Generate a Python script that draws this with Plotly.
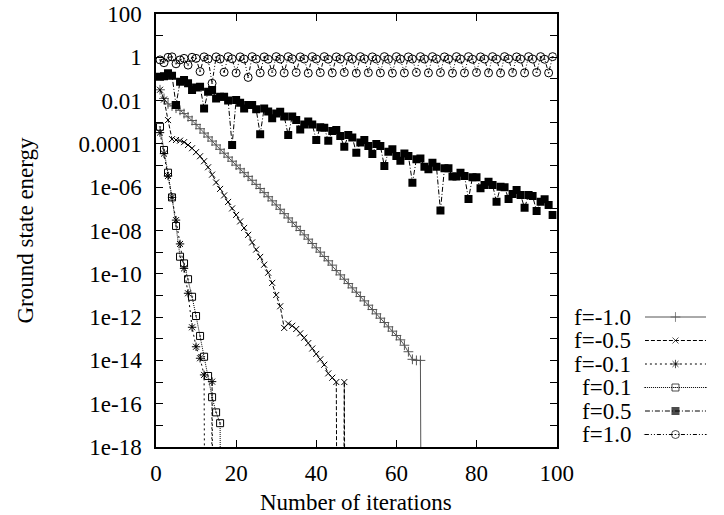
import plotly.graph_objects as go

# ---------------- data (log10 of ground state energy) ----------------
labels = ["f=-1.0", "f=-0.5", "f=-0.1", "f=0.1", "f=0.5", "f=1.0"]
TINY = -60  # value that underflowed (drawn as a drop to the bottom axis)

x_fm10 = list(range(1, 68))
log_fm10 = [-1.5, -1.9, -2.15, -2.25, -2.35, -2.45, -2.6, -2.75, -2.92, -3.1,
            -3.3, -3.5, -3.68, -3.87, -4.05, -4.25, -4.43, -4.61, -4.8, -4.98,
            -5.15, -5.33, -5.5, -5.68, -5.87, -6.06, -6.25, -6.44, -6.63, -6.82,
            -7.02, -7.22, -7.42, -7.62, -7.81, -8.0, -8.2, -8.4, -8.6, -8.8,
            -9.0, -9.2, -9.4, -9.6, -9.85, -10.05, -10.25, -10.45, -10.65, -10.85,
            -11.05, -11.25, -11.45, -11.65, -11.85, -12.05, -12.25, -12.45, -12.65, -12.85,
            -13.05, -13.3, -13.6, -13.95, -14.0, -14.0, TINY]

x_fm05 = list(range(1, 49))
log_fm05 = [-1.5, -1.95, -2.9, -3.78, -3.82, -3.85, -3.92, -4.05, -4.2, -4.38,
            -4.57, -4.8, -5.08, -5.42, -5.78, -6.08, -6.38, -6.68, -6.98, -7.28,
            -7.58, -7.88, -8.2, -8.55, -8.88, -9.22, -9.58, -9.95, -10.42, -10.98,
            -11.5, -12.5, -12.3, -12.4, -12.55, -12.75, -12.95, -13.2, -13.45, -13.7,
            -13.95, -14.2, -14.6, -14.8, -15.0, TINY, -15.0, TINY]

x_fm01 = list(range(1, 16))
log_fm01 = [-3.48, -4.45, -5.48, -6.47, -7.52, -8.62, -9.75, -10.9, -12.47, -13.37,
            -13.9, -14.67, TINY, -14.98, TINY]

x_fp01 = list(range(1, 18))
log_fp01 = [-3.21, -4.28, -5.33, -6.47, -7.79, -9.21, -9.52, -10.25, -11.06, -11.95,
            -12.87, -13.83, -14.72, -15.7, -16.4, -16.9, TINY]

x_fp05 = list(range(1, 100))
log_fp05 = [-0.9, -0.88, -0.74, -0.85, -2.2, -1.13, -1.05, -1.2, -1.51, -1.4,
            -1.36, -2.36, -1.59, -1.51, -1.9, -1.82, -1.82, -2.0, -4.05, -1.97,
            -2.1, -2.36, -2.2, -2.2, -2.4, -3.56, -2.36, -2.5, -2.82, -2.6,
            -2.51, -2.74, -3.59, -2.74, -2.9, -3.33, -3.1, -2.97, -3.1, -3.82,
            -3.23, -3.25, -3.85, -3.4, -3.36, -3.64, -4.13, -3.59, -3.7, -4.41,
            -3.94, -3.82, -4.1, -4.47, -4.0, -4.1, -5.02, -4.36, -4.25, -4.56,
            -4.78, -4.44, -4.56, -5.79, -4.71, -4.67, -5.05, -5.17, -4.87, -5.05,
            -7.08, -5.13, -5.13, -5.51, -5.51, -5.33, -5.48, -6.54, -5.54, -5.54,
            -6.05, -5.9, -5.75, -5.9, -6.67, -5.98, -6.0, -6.54, -6.31, -6.13,
            -6.36, -6.95, -6.36, -6.41, -7.1, -6.67, -6.56, -6.82, -7.28]

x_fp10 = list(range(1, 100))
log_fp10 = [-0.12, -0.25, 0.0, 0.02, -0.3, -0.12, -0.05, -0.36, 0.0, -0.05,
            -0.66, 0.02, -0.08, -1.2, 0.02, -0.08, -0.69, 0.03, -0.07, -0.72,
            0.02, -0.08, -0.93, 0.03, -0.08, -0.72, 0.02, -0.09, -0.7, 0.03,
            -0.08, -0.72, 0.03, -0.07, -0.7, 0.02, -0.08, -0.73, 0.03, -0.08,
            -0.71, 0.03, -0.09, -0.72, 0.02, -0.08, -0.7, 0.03, -0.08, -0.73,
            0.03, -0.07, -0.71, 0.02, -0.08, -0.72, 0.03, -0.09, -0.73, 0.03,
            -0.08, -0.72, 0.02, -0.08, -0.7, 0.03, -0.08, -0.72, 0.03, -0.07,
            -0.71, 0.02, -0.08, -0.73, 0.03, -0.08, -0.72, 0.03, -0.09, -0.7,
            0.02, -0.08, -0.72, 0.03, -0.08, -0.73, 0.03, -0.07, -0.71, 0.02,
            -0.08, -0.72, 0.03, -0.08, -0.7, 0.03, -0.09, -0.72, 0.03]

x_ticks = [0, 20, 40, 60, 80, 100]
y_exponents = list(range(-18, 3))
y_ticktext = {2: "100", 0: "1", -2: "0.01", -4: "0.0001", -6: "1e-06", -8: "1e-08",
              -10: "1e-10", -12: "1e-12", -14: "1e-14", -16: "1e-16", -18: "1e-18"}

# ---------------- styles ----------------
FONT = "Liberation Serif"
FS = 23
series = [
    (x_fm10, log_fm10, dict(color="#555555", width=1, dash="solid"),
     dict(symbol="cross-thin-open", size=7, color="#555555", line=dict(width=1, color="#555555"))),
    (x_fm05, log_fm05, dict(color="black", width=1, dash="4px,2px"),
     dict(symbol="x-thin-open", size=6, color="black", line=dict(width=1, color="black"))),
    (x_fm01, log_fm01, dict(color="black", width=1, dash="2px,3px"),
     dict(symbol="asterisk-open", size=7, color="black", line=dict(width=1, color="black"))),
    (x_fp01, log_fp01, dict(color="black", width=1, dash="1px,1px"),
     dict(symbol="square-open-dot", size=7, color="black", line=dict(width=1, color="black"))),
    (x_fp05, log_fp05, dict(color="black", width=1, dash="5px,2px,1px,2px"),
     dict(symbol="square", size=8, color="black", line=dict(width=0))),
    (x_fp10, log_fp10, dict(color="black", width=1, dash="4px,2px,1px,2px,1px,2px"),
     dict(symbol="circle-open-dot", size=8, color="black", line=dict(width=1, color="black"))),
]

fig = go.Figure()
for (xs, logs, line, marker), name in zip(series, labels):
    fig.add_trace(go.Scatter(x=xs, y=[10.0 ** v for v in logs], mode="lines+markers",
                             line=line, marker=marker, name=name, showlegend=False,
                             xaxis="x", yaxis="y"))

# legend (text left, sample right, as in the original)
for i, ((xs, logs, line, marker), name) in enumerate(zip(series, labels)):
    fig.add_trace(go.Scatter(x=[0, 0.5, 1], y=[i, i, i], mode="lines+markers",
                             line=line, marker=dict(marker, size=[0, marker["size"], 0]),
                             showlegend=False, xaxis="x2", yaxis="y2", cliponaxis=False,
                             hoverinfo="skip"))
    fig.add_annotation(x=(648 - 156) / 568, y=i, xref="paper", yref="y2", text=name,
                       showarrow=False, xanchor="right", yanchor="middle",
                       font=dict(family=FONT, size=FS, color="black"))

W, H = 724, 515
L, R, T, B = 156, 0, 14, 68
plot_w = W - L - R
plot_h = H - T - B

fig.update_layout(
    width=W, height=H,
    margin=dict(l=L, r=R, t=T, b=B),
    paper_bgcolor="white", plot_bgcolor="white",
    font=dict(family=FONT, size=FS, color="black"),
    xaxis=dict(domain=[0, 413 / plot_w], range=[0, 100], tickvals=x_ticks,
               ticks="inside", ticklen=7, tickcolor="black", showline=True,
               linecolor="black", linewidth=1.5, mirror="ticks", showgrid=False,
               zeroline=False, ticklabelstandoff=5),
    yaxis=dict(type="log", range=[-18, 2], tickvals=[10.0 ** e for e in y_exponents],
               ticktext=[y_ticktext.get(e, "") for e in y_exponents],
               ticks="inside", ticklen=7, tickcolor="black", showline=True,
               linecolor="black", linewidth=1.5, mirror="ticks", showgrid=False,
               zeroline=False, ticklabelstandoff=8),
    xaxis2=dict(domain=[(660 - L) / plot_w, (723 - L) / plot_w], range=[0, 1],
                visible=False, anchor="y2"),
    yaxis2=dict(domain=[0, 1], range=[(447 - 317) / 23.5, -(317 - 14) / 23.5],
                visible=False, anchor="x2"),
    annotations=list(fig.layout.annotations) + [
        dict(text="Ground state energy", x=(21 - L) / plot_w, y=0.5, xref="paper",
             yref="paper", textangle=-90, showarrow=False, xanchor="center",
             yanchor="middle", font=dict(family=FONT, size=FS)),
        dict(text="Number of iterations", x=(362.5 - L) / plot_w, y=(447 - 502) / plot_h,
             xref="paper", yref="paper", showarrow=False, xanchor="center",
             yanchor="middle", font=dict(family=FONT, size=FS)),
    ],
)

fig.write_html("out.html")
